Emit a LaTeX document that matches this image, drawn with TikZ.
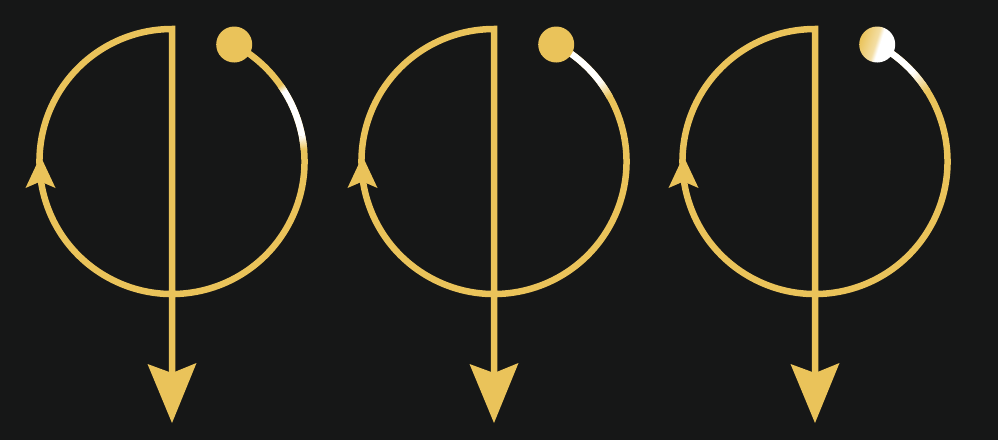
\documentclass[tikz,border=0pt]{standalone}
\usetikzlibrary{calc}
\definecolor{gold}{RGB}{234,195,90}
\definecolor{bg}{RGB}{22,23,23}
\pgfdeclarehorizontalshading{dotshade}{100bp}{color(0bp)=(gold); color(25bp)=(gold); color(47bp)=(gold!55!white); color(53bp)=(white); color(100bp)=(white)}
\newcommand\hlfade[5]{%
  \foreach \i in {0,...,15}{%
    \pgfmathsetmacro\aa{#2+(#3-#2)*\i/16}%
    \pgfmathsetmacro\bb{#2+(#3-#2)*(\i+1.4)/16}%
    \pgfmathsetmacro\pp{#4+(#5-#4)*(\i+0.5)/16}%
    \draw[hl, draw=gold!\pp!white] ($(#1)+(\aa:132.5)$) arc[start angle=\aa, end angle=\bb, radius=132.5];
  }}
\newcommand\hlwhite[3]{%
  \draw[hl, draw=white] ($(#1)+(#2:132.5)$) arc[start angle=#2, end angle=#3, radius=132.5];}
\begin{document}
\begin{tikzpicture}[x=1pt,y=1pt,
  loop/.style={draw=gold, line width=6.5pt, line join=miter, line cap=butt},
  hl/.style={line width=6.5pt, line cap=butt},
  head/.style={fill=gold}]
\fill[bg] (0,0) rectangle (998,440);
\useasboundingbox (0,0) rectangle (998,440);
% shared geometry of the three figures
\foreach \cx/\n in {172/1, 494/2, 815/3}{
  \coordinate (c\n) at (\cx,278.5);
  \coordinate (n\n) at (\cx,67);
  \coordinate (t\n) at (\cx,17);
  \draw[loop] ($(c\n)+(62:132.5)$) arc[start angle=62, end angle=-270, radius=132.5] -- (n\n);
  \fill[head] (t\n) -- ($(n\n)+(24.5,10)$) -- (n\n) -- ($(n\n)+(-24.5,9)$) -- cycle;
  \fill[head] ($(c\n)+(-131.5,5.5)$) -- ($(c\n)+(-116.5,-26.5)$) -- ($(c\n)+(-131.5,-20)$) -- ($(c\n)+(-146.5,-26.5)$) -- cycle;
}
% highlights
\hlfade{c1}{35}{32}{100}{0}
\hlwhite{c1}{32}{11}
\hlfade{c1}{11}{5}{0}{100}
\hlwhite{c2}{62}{37}
\hlfade{c2}{37}{29}{0}{100}
\hlwhite{c3}{62}{42}
\hlfade{c3}{42}{32}{0}{100}
% dots
\fill[gold] ($(c1)+(62:132.5)$) circle[radius=18];
\fill[gold] ($(c2)+(62:132.5)$) circle[radius=18];
\shade[shading=dotshade, shading angle=-18] ($(c3)+(62:132.5)$) circle[radius=18];
\end{tikzpicture}
\end{document}
